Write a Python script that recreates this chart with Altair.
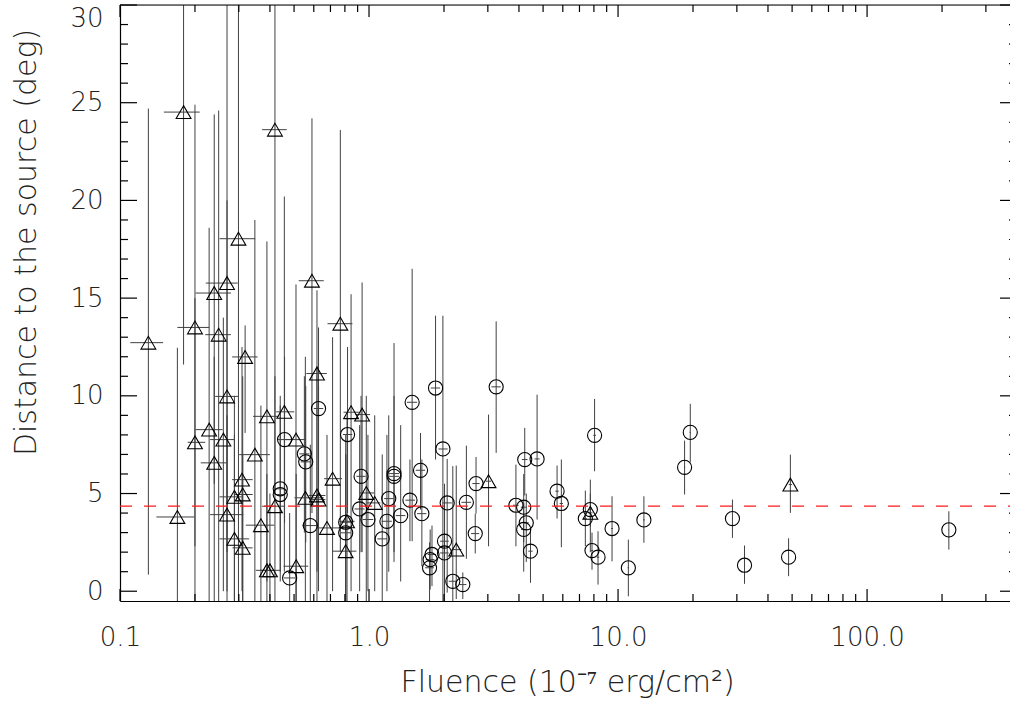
import altair as alt
import pandas as pd

# ---------------- data ----------------
tri_fluence = [0.130, 0.180, 0.170, 0.200, 0.200, 0.239, 0.269, 0.249, 0.318, 0.269, 0.389, 0.457, 0.228, 0.260, 0.348, 0.239, 0.309, 0.311, 0.288, 0.269, 0.368, 0.419, 0.288, 0.311, 0.389, 0.400, 0.299, 0.419, 0.590, 0.767, 0.618, 0.847, 0.938, 0.509, 0.714, 0.555, 0.618, 0.627, 0.975, 1.054, 0.678, 0.816, 0.806, 0.510, 3.02, 2.24, 7.74, 49.2]
tri_dist = [12.72, 24.52, 3.80, 7.62, 13.5, 15.26, 15.77, 13.13, 11.99, 9.97, 8.95, 9.18, 8.27, 7.76, 6.99, 6.57, 5.71, 4.95, 4.83, 3.92, 3.38, 4.35, 2.68, 2.22, 1.07, 1.07, 18.04, 23.62, 15.89, 13.69, 11.14, 9.16, 9.04, 7.76, 5.76, 4.78, 4.90, 4.69, 5.03, 4.52, 3.24, 3.58, 2.05, 1.28, 5.63, 2.13, 4.01, 5.46]
tri_flo = [0.110, 0.150, 0.140, 0.187, 0.170, 0.201, 0.221, 0.220, 0.282, 0.241, 0.342, 0.424, 0.201, 0.230, 0.301, 0.211, 0.282, 0.288, 0.251, 0.230, 0.320, 0.372, 0.251, 0.283, 0.351, 0.365, 0.251, 0.372, 0.522, 0.681, 0.560, 0.790, 0.880, 0.454, 0.660, 0.502, 0.572, 0.590, 0.915, 0.980, 0.617, 0.760, 0.710, 0.454, 2.95, 2.15, 7.60, 48.5]
tri_fhi = [0.149, 0.209, 0.199, 0.220, 0.228, 0.279, 0.297, 0.279, 0.357, 0.299, 0.433, 0.501, 0.258, 0.288, 0.400, 0.268, 0.341, 0.341, 0.308, 0.313, 0.417, 0.460, 0.330, 0.341, 0.419, 0.440, 0.349, 0.467, 0.658, 0.858, 0.677, 0.910, 1.010, 0.555, 0.780, 0.658, 0.668, 0.668, 1.050, 1.110, 0.790, 0.875, 0.890, 0.570, 3.09, 2.35, 7.90, 50.0]
tri_dlo = [0.85, 11.6, -1, -1, 2.3, 5.5, 2.0, -1, 8.1, 0.0, 0.5, 1.0, -1, 0.0, -1, -1, 0.0, -1, -1, -1, -1, -1, -1, -1, -1, -1, -1, 5.0, 4.0, 2.0, 1.0, 0.0, 2.0, -1, 0.0, -1, -1, 0.0, -1, 0.0, -1, -1, -1, -1, 2.3, -0.4, 2.0, 4.01]
tri_dhi = [24.7, 31, 12.46, 15.0, 24.9, 24.4, 31, 24.6, 13.6, 20.0, 17.9, 20.2, 18.6, 14.0, 19.0, 12.0, 12.5, 11.0, 10.0, 9.0, 9.5, 11.0, 8.0, 7.0, 6.0, 5.0, 31, 31, 24.2, 23.6, 15.4, 15.2, 15.8, 15.7, 13.0, 12.0, 11.5, 10.5, 10.0, 9.0, 8.0, 9.0, 7.0, 6.0, 9.04, 6.43, 5.71, 6.99]

circ_fluence = [0.627, 0.820, 0.458, 0.550, 0.557, 0.929, 1.26, 1.26, 0.440, 1.20, 1.46, 0.917, 0.581, 0.806, 0.806, 0.99, 1.18, 1.34, 1.13, 0.480, 1.49, 1.85, 3.24, 1.98, 1.61, 2.69, 1.63, 2.06, 2.46, 2.67, 2.01, 2.01, 1.79, 1.76, 1.75, 2.17, 2.38, 3.89, 4.18, 4.22, 4.73, 4.28, 4.18, 4.45, 5.69, 5.92, 8.05, 7.74, 7.39, 7.86, 8.31, 9.46, 11.0, 12.7, 18.5, 19.5, 28.8, 32.2, 48.4, 213.0, 0.440]
circ_dist = [9.35, 8.02, 7.76, 7.03, 6.62, 5.88, 6.02, 5.88, 5.24, 4.74, 4.66, 4.21, 3.36, 3.53, 2.99, 3.67, 3.58, 3.87, 2.68, 0.68, 9.67, 10.4, 10.46, 7.28, 6.19, 5.51, 3.97, 4.52, 4.55, 2.95, 2.56, 1.96, 1.88, 1.62, 1.20, 0.51, 0.34, 4.40, 4.30, 6.74, 6.77, 3.50, 3.16, 2.05, 5.12, 4.49, 7.98, 4.18, 3.72, 2.08, 1.74, 3.21, 1.20, 3.65, 6.34, 8.13, 3.72, 1.33, 1.74, 3.14, 4.95]
circ_flo = [0.600, 0.785, 0.430, 0.525, 0.532, 0.890, 1.205, 1.205, 0.420, 1.150, 1.400, 0.875, 0.540, 0.770, 0.770, 0.945, 1.125, 1.280, 1.080, 0.455, 1.420, 1.770, 3.100, 1.900, 1.540, 2.600, 1.560, 1.970, 2.350, 2.570, 1.930, 1.930, 1.720, 1.690, 1.680, 2.090, 2.300, 3.790, 4.070, 4.110, 4.620, 4.180, 4.080, 4.360, 5.600, 5.830, 7.950, 7.650, 7.300, 7.770, 8.220, 9.380, 10.93, 12.60, 18.40, 19.40, 28.70, 32.10, 48.30, 212.5, 0.420]
circ_fhi = [0.655, 0.857, 0.490, 0.575, 0.583, 0.970, 1.320, 1.320, 0.460, 1.255, 1.530, 0.960, 0.625, 0.845, 0.845, 1.040, 1.235, 1.400, 1.180, 0.505, 1.560, 1.930, 3.380, 2.070, 1.680, 2.780, 1.700, 2.150, 2.570, 2.770, 2.090, 2.090, 1.860, 1.830, 1.820, 2.250, 2.460, 3.990, 4.290, 4.330, 4.840, 4.380, 4.280, 4.540, 5.780, 6.010, 8.150, 7.830, 7.480, 7.950, 8.400, 9.540, 11.07, 12.80, 18.60, 19.60, 28.90, 32.30, 48.50, 213.5, 0.460]
circ_dlo = [5.5, 4.0, 3.5, 3.0, 2.5, 2.0, 2.0, 1.5, 1.0, 1.0, 2.56, 0.0, -1, -1, -1, 0.0, 0.0, 0.5, -1, -1, 2.56, 6.74, 7.08, -1, 4.18, 3.97, 1.28, -0.07, 1.66, 1.93, -1, -1, 0.26, 0.09, -1, -1, -0.4, 2.3, 2.5, 4.9, 3.67, 1.5, 1.0, 0.43, 3.72, 2.25, 6.14, 3.3, 2.3, 1.1, 0.34, 1.53, -0.26, 2.48, 4.95, 6.6, 2.73, 0.38, 0.77, 2.13, 0.5]
circ_dhi = [13.5, 12.5, 12.0, 11.0, 10.5, 10.0, 12.7, 10.0, 10.0, 9.0, 6.74, 8.5, 7.5, 8.0, 7.0, 8.0, 8.0, 8.5, 7.0, 4.0, 16.5, 14.1, 13.81, 14.1, 8.1, 6.87, 6.74, 6.77, 7.45, 3.97, 5.5, 5.0, 3.36, 3.16, 2.5, 6.4, 0.96, 6.48, 6.0, 8.36, 10.06, 5.0, 4.5, 3.24, 6.43, 6.74, 9.84, 5.0, 5.15, 3.0, 3.07, 4.86, 2.64, 4.86, 7.71, 9.59, 4.69, 2.34, 2.71, 4.09, 9.5]

threshold = [4.36]

x_major = [0.1, 1.0, 10.0, 100.0]
x_minor = [0.2, 0.3, 0.4, 0.5, 0.6, 0.7, 0.8, 0.9, 2, 3, 4, 5, 6, 7, 8, 9,
           20, 30, 40, 50, 60, 70, 80, 90, 200, 300]
y_major = [0, 5, 10, 15, 20, 25, 30]
y_minor = [v for v in range(0, 31) if v % 5 != 0]

x_title = "Fluence (10\u207b\u2077 erg/cm\u00b2)"
y_title = "Distance to the source (deg)"

# ---------------- layout ----------------
W = 890          # visible plot width (to the window edge)
XR = 897         # full x range (right frame lies just outside the window)
H = 596
FONT = "DejaVu Sans"
TXT = "#222222"
LINE = "#404040"

xscale = alt.Scale(type="log", domain=[0.1, 400], range=[0, XR], nice=False)
yscale = alt.Scale(domain=[-0.5, 30], nice=False, zero=False)

xaxis = alt.Axis(values=x_major, format=".1f", ticks=False, grid=False,
                 domainColor="black", domainWidth=1.2, labelPadding=23,
                 labelFontSize=26, labelColor=TXT, labelFont=FONT,
                 labelFontWeight=200,
                 title=x_title, titleFont=FONT, titleFontSize=30,
                 titleFontWeight=200, titleColor=TXT,
                 titleX=447, titleY=81, titleAlign="center",
                 titleBaseline="middle", labelFlush=False)
yaxis = alt.Axis(values=y_major, format="d", ticks=False, grid=False,
                 domainColor="black", domainWidth=1.2, labelPadding=17,
                 labelFontSize=26, labelColor=TXT, labelFont=FONT,
                 labelFontWeight=200,
                 title=y_title, titleFont=FONT, titleFontSize=30,
                 titleFontWeight=200, titleColor=TXT,
                 titleX=-94, titleY=237, titleAlign="center",
                 titleBaseline="middle", titleAngle=-90,
                 labelFlush=True, labelFlushOffset=0)


def X(field):
    return alt.X(field, type="quantitative", scale=xscale, axis=xaxis, title=x_title)


def Y(field):
    return alt.Y(field, type="quantitative", scale=yscale, axis=yaxis, title=y_title)


tri = pd.DataFrame({"f": tri_fluence, "d": tri_dist, "flo": tri_flo,
                    "fhi": tri_fhi, "dlo": tri_dlo, "dhi": tri_dhi})
circ = pd.DataFrame({"f": circ_fluence, "d": circ_dist, "flo": circ_flo,
                     "fhi": circ_fhi, "dlo": circ_dlo, "dhi": circ_dhi})

layers = []
for df in (tri, circ):
    layers.append(alt.Chart(df).mark_rule(color=LINE, strokeWidth=1, clip=True)
                  .encode(x=X("f"), y=Y("dlo"), y2="dhi"))
    layers.append(alt.Chart(df).mark_rule(color=LINE, strokeWidth=1, clip=True)
                  .encode(x=X("flo"), x2="fhi", y=Y("d")))

layers.append(alt.Chart(tri).mark_point(shape="triangle-up", filled=False,
                                        color="black", size=220, strokeWidth=1.1,
                                        opacity=1)
              .encode(x=X("f"), y=Y("d")))
layers.append(alt.Chart(circ).mark_point(shape="circle", filled=False,
                                         color="black", size=200, strokeWidth=1.1,
                                         opacity=1)
              .encode(x=X("f"), y=Y("d")))

# threshold line
layers.append(alt.Chart(pd.DataFrame({"v": threshold}))
              .mark_rule(color="#ff1a1a", strokeWidth=1.3, strokeDash=[12, 12])
              .encode(y=Y("v"), x=alt.value(0), x2=alt.value(XR)))

# inward ticks (bottom / top / left / right) and top frame
xmaj = pd.DataFrame({"v": x_major})
xmin = pd.DataFrame({"v": x_minor})
ymaj = pd.DataFrame({"v": y_major})
ymin = pd.DataFrame({"v": y_minor})
tick = dict(color="black", strokeWidth=1.2)
layers += [
    alt.Chart(xmaj).mark_rule(**tick).encode(x=X("v"), y=alt.value(H), y2=alt.value(H - 12)),
    alt.Chart(xmin).mark_rule(**tick).encode(x=X("v"), y=alt.value(H), y2=alt.value(H - 7)),
    alt.Chart(xmaj).mark_rule(**tick).encode(x=X("v"), y=alt.value(0), y2=alt.value(12)),
    alt.Chart(xmin).mark_rule(**tick).encode(x=X("v"), y=alt.value(0), y2=alt.value(7)),
    alt.Chart(ymaj).mark_rule(**tick).encode(y=Y("v"), x=alt.value(0), x2=alt.value(17)),
    alt.Chart(ymin).mark_rule(**tick).encode(y=Y("v"), x=alt.value(0), x2=alt.value(8)),
    alt.Chart(ymaj).mark_rule(**tick).encode(y=Y("v"), x=alt.value(XR), x2=alt.value(XR - 17)),
    alt.Chart(ymin).mark_rule(**tick).encode(y=Y("v"), x=alt.value(XR), x2=alt.value(XR - 8)),
    alt.Chart(pd.DataFrame({"v": [30]})).mark_rule(**tick)
    .encode(y=Y("v"), x=alt.value(0), x2=alt.value(XR)),
]

chart = (alt.layer(*layers)
         .properties(width=W, height=H,
                     padding={"left": 120, "top": 5, "right": 0, "bottom": 101},
                     autosize=alt.AutoSizeParams(type="none"))
         .configure_view(stroke=None)
         .configure(background="white"))

chart.save("out.html", embed_options={"renderer": "svg", "actions": False})
